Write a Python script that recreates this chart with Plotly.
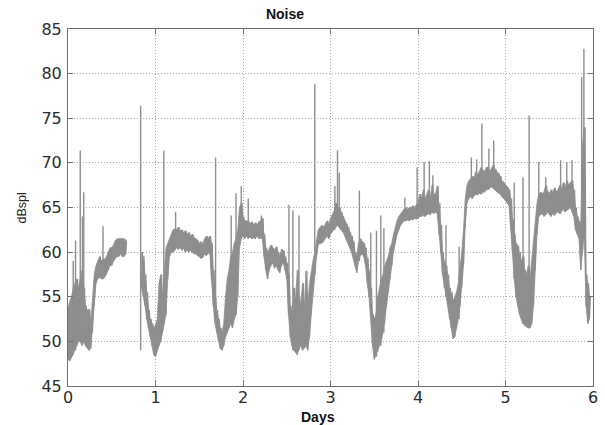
import plotly.graph_objects as go

# Sample times (days) and band envelope (dB SPL)
day_start = 0.0
day_step = 0.02

band_lo = [
    48.0, 47.8, 48.2, 48.5, 49.0, 49.5, 50.0, 50.0, 49.5, 50.0,
    49.5, 49.3, 49.0, 49.2, 51.0, 54.0, 56.5, 57.0, 57.2, 57.0,
    57.0, 57.2, 57.5, 58.0, 58.5, 58.5, 59.0, 59.3, 59.5, 59.5,
    59.8, 59.5, 59.5, 59.8, None, None, None, None, None, None,
    None, None, 56.0, 55.0, 54.0, 52.5, 51.5, 50.5, 49.5, 48.5,
    48.3, 49.0, 49.5, 50.0, 51.0, 52.0, 53.0, 57.0, 59.5, 60.0,
    60.0, 60.2, 60.5, 60.3, 60.5, 60.2, 60.4, 60.0, 60.2, 60.0,
    60.2, 60.0, 59.8, 59.8, 59.6, 59.5, 59.3, 59.4, 59.8, 59.6,
    59.8, 60.0, 57.0, 54.0, 52.0, 51.0, 50.0, 49.2, 49.0, 49.5,
    50.5, 51.0, 51.5, 52.0, 51.5, 52.5, 53.0, 55.0, 60.5, 61.5,
    61.8, 61.5, 61.8, 61.5, 61.7, 61.5, 61.6, 61.5, 61.8, 61.5,
    61.6, 61.5, 59.5, 58.0, 57.0, 58.0, 58.5, 58.8, 58.2, 58.5,
    58.0, 57.7, 58.5, 58.8, 58.0, 57.0, 53.0, 50.5, 49.5, 49.0,
    48.8, 48.5, 49.2, 49.5, 49.0, 49.2, 49.5, 49.0, 50.5, 53.0,
    55.5, 57.5, 59.5, 60.8, 61.0, 61.0, 61.2, 61.5, 61.8, 61.5,
    62.0, 62.3, 62.5, 62.8, 63.0, 62.8, 62.5, 62.3, 62.0, 61.5,
    61.0, 60.5, 60.0, 59.5, 58.5, 57.7, 59.0, 59.6, 59.8, 59.5,
    58.5, 56.5, 55.0, 52.5, 49.5, 48.0, 48.3, 48.8, 49.5, 50.0,
    51.0, 52.0, 54.0, 55.5, 57.0, 58.5, 60.0, 61.0, 62.0, 62.5,
    63.0, 63.3, 63.5, 63.5, 63.6, 63.5, 63.7, 63.6, 63.8, 63.7,
    63.8, 64.0, 64.0, 64.2, 64.0, 64.2, 64.3, 64.2, 64.5, 64.3,
    64.5, 64.3, 62.0, 60.0, 57.5, 56.0, 55.0, 54.0, 52.5, 51.5,
    50.3, 50.5, 51.5, 52.5, 54.0, 56.0, 58.5, 63.0, 65.5, 66.0,
    66.2, 66.0, 66.3, 66.5, 66.4, 66.6, 66.5, 66.8, 66.7, 67.0,
    67.0, 67.2, 67.3, 67.2, 67.0, 66.8, 66.6, 66.5, 66.2, 66.0,
    65.8, 65.5, 65.2, 63.0, 60.0, 57.0, 55.0, 54.0, 53.0, 52.5,
    52.0, 51.8, 51.6, 51.5, 51.5, 52.0, 54.0, 58.0, 62.0, 64.0,
    64.2, 64.3, 64.0, 64.2, 64.5, 64.2, 64.0, 64.3, 64.1, 64.4,
    64.5, 64.3, 64.6, 64.8, 64.5, 64.7, 64.8, 65.0, 64.6, 64.0,
    62.5, 62.0, 61.5, 58.0, 60.0, 62.0, 54.0, 52.0, 52.5,
]

band_hi = [
    53.6, 54.5, 55.0, 56.0, 56.5, 57.0, 56.0, 57.0, 58.0, 56.0,
    54.0, 53.5, 53.6, 52.0, 54.5, 57.5, 58.5, 59.0, 59.5, 59.0,
    59.2, 59.2, 59.5, 60.0, 60.5, 60.5, 60.8, 61.3, 61.5, 61.5,
    61.5, 61.5, 61.5, 61.3, None, None, None, None, None, None,
    None, None, 60.0, 59.5, 57.5, 55.5, 53.5, 52.5, 52.0, 51.5,
    51.8, 52.5, 56.5, 57.5, 55.0, 58.0, 60.5, 61.0, 61.5, 62.0,
    62.5, 62.6, 62.5, 62.8, 62.4, 62.5, 62.2, 62.4, 62.0, 62.2,
    61.8, 62.0, 61.6, 61.5, 61.3, 61.0, 61.2, 60.8, 61.5, 61.8,
    61.5, 61.8, 61.0, 58.0, 55.0, 53.5, 52.5, 51.5, 51.0, 52.0,
    55.0, 57.0, 58.0, 59.5, 60.0, 61.0, 61.5, 62.5, 65.0, 65.5,
    64.0, 63.5, 63.5, 63.4, 63.2, 63.4, 63.0, 63.3, 63.0, 63.4,
    63.5, 63.8, 62.0, 60.5, 60.0, 60.5, 60.8, 60.5, 60.2, 60.6,
    60.0, 59.5, 60.3, 60.2, 59.5, 58.8, 57.5, 54.0, 53.0, 56.0,
    54.5, 58.0, 55.0, 54.0, 56.5, 53.5, 57.9, 54.0, 56.5, 58.0,
    59.0, 60.0, 61.5, 62.5, 62.8, 63.0, 62.8, 63.2, 63.5, 63.0,
    63.8, 64.2, 64.6, 65.5, 65.0, 65.0, 64.5, 64.0, 63.5, 63.2,
    62.8, 62.2, 61.8, 61.2, 60.0, 59.5, 61.0, 61.5, 61.2, 61.0,
    60.5, 59.3, 58.0, 56.0, 53.0, 52.5, 53.0, 55.0, 56.0, 57.0,
    57.5, 58.5, 59.0, 59.5, 60.5, 61.0, 62.0, 62.8, 63.5, 64.0,
    64.3, 64.6, 64.8, 65.0, 64.8, 65.0, 65.0, 65.2, 65.0, 65.3,
    65.5, 66.5, 66.0, 67.0, 66.0, 66.5, 67.0, 66.0, 67.5, 66.5,
    66.5, 67.4, 65.5, 63.0, 60.0, 59.0, 58.5, 57.5, 56.0, 55.5,
    54.5, 55.0, 55.5, 56.5, 58.0, 60.0, 62.5, 66.0, 67.5, 68.0,
    68.2, 68.5, 68.3, 69.0, 68.6, 69.0, 69.5, 69.2, 69.0, 69.5,
    69.5, 69.0, 69.5, 69.8, 69.3, 69.0, 68.8, 68.5, 68.0, 67.8,
    67.5, 67.3, 67.0, 66.0, 63.7, 62.0, 61.0, 60.7, 60.0, 59.0,
    59.5, 58.0, 57.5, 58.5, 57.0, 59.0, 61.0, 63.5, 65.5, 66.5,
    66.7, 66.5, 66.8, 67.5, 66.8, 66.5, 67.0, 66.6, 67.2, 66.8,
    67.0, 67.5, 67.0, 67.8, 67.2, 68.0, 67.5, 67.8, 68.0, 67.0,
    65.0, 64.0, 63.5, 63.0, 72.0, 74.0, 57.5, 56.5, 55.0,
]

# Isolated spikes: time (days), base and peak level (dB SPL)
spike_t = [0.06, 0.086, 0.14, 0.165, 0.18, 0.40, 0.83, 1.095, 1.23, 1.687,
           1.865, 1.92, 1.98, 2.06, 2.21, 2.525, 2.57, 2.64, 2.82, 3.05,
           3.08, 3.10, 3.33, 3.46, 3.525, 3.575, 3.61, 3.85, 3.99, 4.07,
           4.13, 4.17, 4.32, 4.47, 4.61, 4.67, 4.73, 4.81, 4.865, 5.10,
           5.20, 5.27, 5.38, 5.46, 5.63, 5.70, 5.76, 5.87, 5.896]
spike_base = [49.0, 49.0, 50.0, 50.0, 50.0, 57.0, 49.0, 52.0, 60.5, 52.0,
              52.0, 53.0, 61.5, 61.5, 61.5, 53.0, 49.0, 49.0, 57.5, 62.5,
              63.0, 62.8, 59.0, 52.5, 48.3, 49.5, 51.0, 63.5, 63.7, 64.0,
              64.3, 64.5, 55.0, 52.5, 66.2, 66.5, 66.5, 67.0, 67.2, 57.0,
              52.0, 51.5, 64.0, 64.2, 64.3, 64.7, 64.6, 60.0, 62.0]
spike_top = [59.0, 61.3, 71.4, 64.0, 66.7, 62.9, 76.4, 71.4, 64.5, 70.6,
             64.1, 66.6, 67.4, 66.0, 64.1, 65.3, 64.7, 64.1, 78.8, 67.4,
             71.4, 68.9, 66.9, 62.2, 62.4, 64.1, 62.7, 66.1, 69.5, 70.1,
             70.2, 68.6, 63.0, 60.6, 70.6, 70.4, 74.4, 71.6, 72.5, 67.8,
             68.4, 75.3, 70.1, 68.4, 70.3, 70.1, 70.3, 79.6, 82.8]

x_ticks = [0, 1, 2, 3, 4, 5, 6]
y_ticks = [45, 50, 55, 60, 65, 70, 75, 80, 85]

times = [day_start + i * day_step for i in range(len(band_lo))]

# Noisy trace: vertical sweep between envelope values
xs, ys = [], []
for t, lo, hi in zip(times, band_lo, band_hi):
    if lo is None:
        xs.append(None)
        ys.append(None)
        continue
    xs += [t, t + day_step * 0.5]
    ys += [lo, hi]

# Solid band polygons (one per contiguous run of samples)
px, py = [], []
run = []
for t, lo, hi in list(zip(times, band_lo, band_hi)) + [(None, None, None)]:
    if lo is None:
        if run:
            px += [r[0] for r in run] + [r[0] for r in reversed(run)] + [None]
            py += [r[2] for r in run] + [r[1] for r in reversed(run)] + [None]
        run = []
    else:
        run.append((t, lo, hi))

sx, sy = [], []
for t, b, p in zip(spike_t, spike_base, spike_top):
    sx += [t, t, None]
    sy += [b, p, None]

gray = "#8e8e8e"
fig = go.Figure()
fig.add_trace(go.Scatter(x=px, y=py, mode="lines", fill="toself", fillcolor=gray,
                         line=dict(color=gray, width=0.8), hoverinfo="skip",
                         showlegend=False))
fig.add_trace(go.Scatter(x=xs, y=ys, mode="lines", connectgaps=False,
                         line=dict(color=gray, width=1.2), hoverinfo="skip",
                         showlegend=False))
fig.add_trace(go.Scatter(x=sx, y=sy, mode="lines",
                         line=dict(color=gray, width=1.4), hoverinfo="skip",
                         showlegend=False))

axis_common = dict(
    showline=True, linecolor="#6e6e6e", linewidth=1, mirror="ticks",
    ticks="inside", ticklen=5, tickcolor="#6e6e6e",
    showgrid=True, gridcolor="#a8a8a8", griddash="1px,2px", gridwidth=1,
    zeroline=False, ticklabeloverflow="allow",
    tickfont=dict(family="DejaVu Sans", size=16, color="#2a2a2a"),
)

fig.update_layout(
    width=605, height=425,
    margin=dict(l=68, r=7, t=29, b=39),
    paper_bgcolor="white", plot_bgcolor="white",
    title=dict(text="<b>Noise</b>", x=285 / 605, xref="container", xanchor="center",
               y=1 - 14 / 425, yref="container", yanchor="middle",
               font=dict(family="Liberation Sans", size=14, color="#111")),
    xaxis=dict(range=[0, 6], tickvals=x_ticks, ticktext=[str(v) for v in x_ticks],
               ticklabelstandoff=-3, **axis_common),
    yaxis=dict(range=[45, 85], tickvals=y_ticks, ticktext=[str(v) for v in y_ticks],
               ticklabelstandoff=2, **axis_common),
    annotations=[
        dict(text="<b>Days</b>", xref="paper", yref="paper",
             x=(320 - 68) / 530, y=(386 - 417) / 357, xanchor="center", yanchor="middle",
             showarrow=False, font=dict(family="Liberation Sans", size=14, color="#111")),
        dict(text="dBspl", xref="paper", yref="paper", textangle=-90,
             x=(22 - 68) / 530, y=(386 - 208) / 357, xanchor="center", yanchor="middle",
             showarrow=False, font=dict(family="Liberation Sans", size=12.5, color="#222")),
    ],
)

fig.write_html("out.html", config={"displayModeBar": False},
               post_script="document.body.style.margin='0px';")
